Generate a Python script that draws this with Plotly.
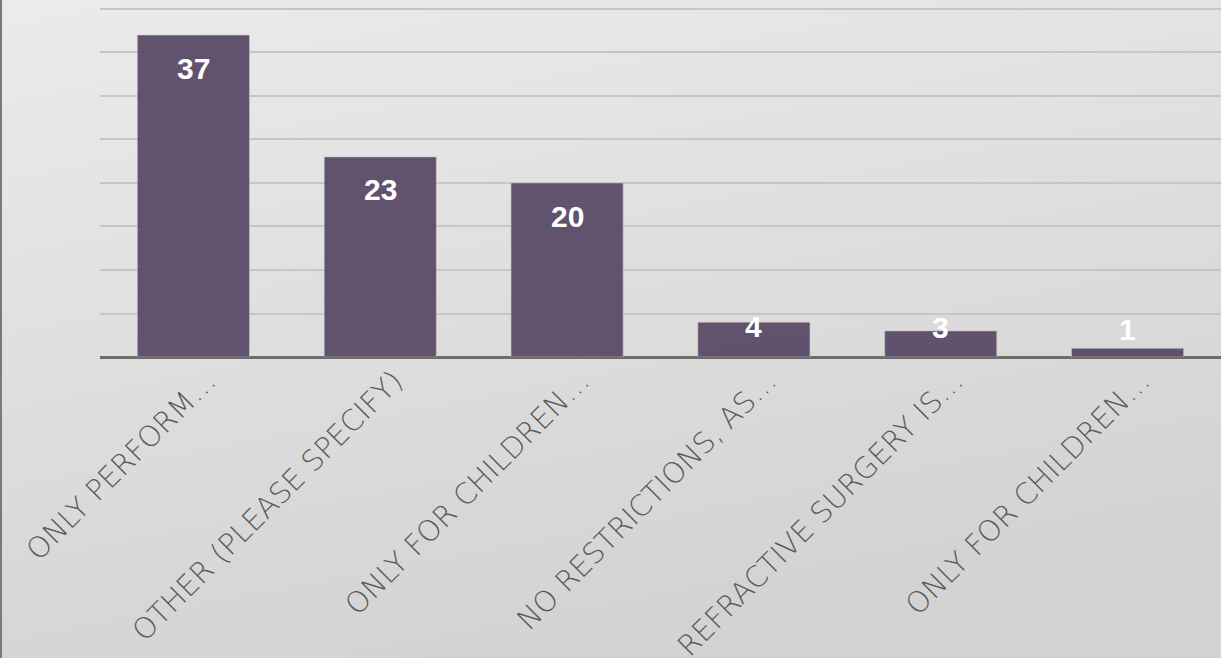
import base64
import plotly.graph_objects as go

# Survey responses
categories = [
    "ONLY PERFORM…",
    "OTHER (PLEASE SPECIFY)",
    "ONLY FOR CHILDREN…",
    "NO RESTRICTIONS, AS…",
    "REFRACTIVE SURGERY IS…",
    "ONLY FOR CHILDREN…",
]
counts = [37, 23, 20, 4, 3, 1]
y_ticks = [0, 5, 10, 15, 20, 25, 30, 35, 40]

positions = list(range(len(categories)))

W, H = 1221, 658
M_L, M_R, M_T, M_B = 100, 0, 0, 301
plot_w = W - M_L - M_R
plot_h = H - M_T - M_B

# soft grey slide-style gradient behind everything
svg = f"""<svg xmlns='http://www.w3.org/2000/svg' width='{W}' height='{H}'>
<defs><linearGradient id='g' x1='0' y1='0' x2='0.35' y2='1'>
<stop offset='0' stop-color='#ebebeb'/><stop offset='1' stop-color='#d3d3d3'/>
</linearGradient></defs>
<rect width='{W}' height='{H}' fill='url(#g)'/>
<rect x='0' y='0' width='2' height='{H}' fill='#7a7a7a'/>
</svg>"""
bg_uri = "data:image/svg+xml;base64," + base64.b64encode(svg.encode()).decode()

fig = go.Figure()
fig.add_trace(go.Bar(
    x=positions,
    y=counts,
    width=0.6,
    marker=dict(color="rgba(90,74,102,0.95)", line=dict(color="rgba(200,195,205,0.6)", width=1)),
    hoverinfo="skip",
))

# value labels near the top of each bar
for p, v in zip(positions, counts):
    fig.add_annotation(
        x=p, y=max(v - 3.8, 3.1 + 0.1 * v),
        text=str(v), showarrow=False,
        font=dict(family="Liberation Sans", size=30, color="white", weight="bold"),
        xanchor="center", yanchor="middle",
    )

fig.update_layout(
    width=W, height=H,
    margin=dict(l=M_L, r=M_R, t=M_T, b=M_B, autoexpand=False),
    paper_bgcolor="rgba(0,0,0,0)",
    plot_bgcolor="rgba(0,0,0,0)",
    showlegend=False,
    bargap=0.4,
    images=[dict(
        source=bg_uri, xref="paper", yref="paper",
        x=-M_L / plot_w, y=1 + M_T / plot_h,
        sizex=W / plot_w, sizey=H / plot_h,
        xanchor="left", yanchor="top", sizing="stretch", layer="below",
    )],
    xaxis=dict(
        range=[-0.5, len(categories) - 0.5],
        tickvals=positions, ticktext=categories,
        tickangle=-45, automargin=False,
        tickfont=dict(family="DejaVu Sans", size=29, color="#5a5a5a", weight=200),
        ticklabelshift=14,
        showgrid=False, zeroline=False,
        showline=False, ticks="",
    ),
    yaxis=dict(
        range=[0, 41.03], automargin=False,
        tickvals=y_ticks, showticklabels=False,
        showgrid=True, gridcolor="#c6c6c6", gridwidth=2,
        zeroline=True, zerolinecolor="#6b6e6b", zerolinewidth=3,
        ticks="",
    ),
)

fig.write_html("out.html")
